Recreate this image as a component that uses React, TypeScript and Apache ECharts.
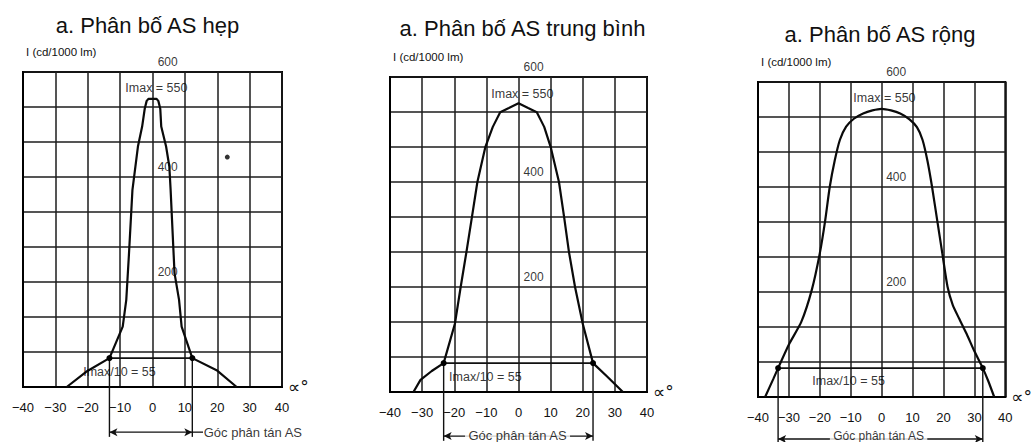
import React, { useEffect, useRef } from "react";
import * as echarts from "echarts";

// ---------- texts ----------
const TITLES = ["a. Phân bố AS hẹp", "a. Phân bố AS trung bình", "a. Phân bố AS rộng"];
const Y_AXIS_NAME = "I (cd/1000 lm)";
const X_AXIS_NAME = "∝°";
const IMAX_TEXT = "Imax = 550";
const IMAX10_TEXT = "Imax/10 = 55";
const SPREAD_TEXT = "Góc phân tán AS";

// ---------- scales ----------
const X_MIN = -40;
const X_MAX = 40;
const X_STEP = 10;
const Y_MIN = 0;
const Y_MAX = 600;
const Y_STEP = 200 / 3;
const SCALE_LABELS = [200, 400, 600];
const IMAX10 = 55;

// ---------- curves (angle in degrees, intensity in cd/1000 lm) ----------
const NARROW_ANGLE = [-26.5, -20.5, -13.3, -9.2, -8.1, -7.3, -6.2, -4.5, -3.2, -2.4, -1.8, -1.2, 1.2, 1.8, 2.4, 2.7, 4.2, 5.2, 5.6, 6.8, 8.2, 9.0, 12.3, 19.8, 26.0];
const NARROW_I = [0, 29, 55, 115, 166, 250, 375, 458, 496, 530, 545, 549, 549, 545, 530, 496, 458, 420, 375, 217, 166, 115, 55, 32, 0];

const MEDIUM_ANGLE = [-32.7, -30.5, -27.0, -23.3, -19.8, -18.0, -16.2, -14.5, -12.8, -10.3, -8.0, -5.7, -3.0, 0, 3.0, 5.7, 8.0, 10.0, 12.6, 14.2, 15.7, 17.6, 20.0, 23.2, 27.5, 32.5];
const MEDIUM_I = [0, 23, 40, 55, 130, 200, 267, 333, 400, 467, 505, 533, 541, 550, 541, 533, 505, 467, 400, 333, 267, 200, 130, 55, 30, 0];

const WIDE_ANGLE = [-37.7, -35.0, -33.5, -30.0, -26.0, -22.6, -20.0, -18.3, -16.8, -15.2, -13.5, -11.5, -9.0, -6.0, -3.0, 0, 3.0, 6.0, 9.0, 11.4, 13.2, 14.8, 16.3, 18.0, 19.6, 21.3, 23.0, 25.0, 27.5, 30.0, 32.7, 34.5, 36.4];
const WIDE_I = [0, 35, 55, 100, 143, 204, 274, 335, 400, 450, 490, 515, 530, 540, 546, 549, 546, 540, 529, 514, 490, 450, 400, 335, 274, 210, 175, 150, 120, 87, 55, 30, 0];

// spread angle (where the curve crosses Imax/10)
const SPREAD_LEFT = [-13.3, -23.3, -33.5];
const SPREAD_RIGHT = [12.3, 23.2, 32.7];

// scan speck in first panel (angle, value)
const SPECK = [23.1, 438];

// ---------- layout ----------
const GRIDS = [
  { left: 23, top: 72, width: 259, height: 315 },
  { left: 390, top: 77, width: 257, height: 315 },
  { left: 758, top: 82, width: 255, height: 315 },
];
const TITLE_POS = [
  [147.5, 25],
  [522.5, 28],
  [880, 34.5],
];
const SCALE_LABEL_X = 4.7;
const IMAX_LABEL_POS = [
  [1.2, 570],
  [1.2, 568],
  [0.9, 570],
];
const IMAX10_LABEL_POS = [
  [-10.2, 29],
  [-10.3, 29],
  [-10.7, 30.5],
];
const BRACKET_BOTTOM = [-95, -93, -100];
const ARROW_Y = [-86, -84, -80];
const SPREAD_TEXT_POS = [
  [15.8, -86],
  [-0.3, -82],
  [-1, -75],
];

const FONT = "Liberation Sans, Arial, sans-serif";
const INK = "#111";

const CURVES = [
  [NARROW_ANGLE, NARROW_I],
  [MEDIUM_ANGLE, MEDIUM_I],
  [WIDE_ANGLE, WIDE_I],
];

function buildOption() {
  const grid = GRIDS.map((g) => ({
    left: g.left,
    top: g.top,
    width: g.width,
    height: g.height,
    show: true,
    borderColor: "#000",
    borderWidth: 2,
    backgroundColor: "transparent",
  }));

  const xAxis = GRIDS.map((_, i) => ({
    type: "value",
    gridIndex: i,
    min: X_MIN,
    max: X_MAX,
    interval: X_STEP,
    name: X_AXIS_NAME,
    nameLocation: "end",
    nameGap: 6,
    nameTextStyle: { fontSize: 17, color: INK, fontFamily: "DejaVu Sans", verticalAlign: "middle" },
    axisLine: { show: true, onZero: false, lineStyle: { color: "#000", width: 2 } },
    axisTick: { show: false },
    splitLine: { show: true, lineStyle: { color: "#1c1c1c", width: 1.5 } },
    axisLabel: {
      show: true,
      margin: 14,
      fontSize: 13,
      color: INK,
      fontFamily: FONT,
      hideOverlap: false,
      formatter: (v: number) => (v < 0 ? "\u2212" + Math.abs(v) : String(v)),
    },
  }));

  const yAxis = GRIDS.map((_, i) => ({
    type: "value",
    gridIndex: i,
    min: Y_MIN,
    max: Y_MAX,
    interval: Y_STEP,
    name: Y_AXIS_NAME,
    nameLocation: "end",
    nameGap: 14,
    nameTextStyle: { fontSize: 11.5, color: INK, fontFamily: FONT, align: "left", padding: [0, 0, 0, 3] },
    axisLine: { show: true, onZero: false, lineStyle: { color: "#000", width: 2 } },
    axisTick: { show: false },
    axisLabel: { show: false },
    splitLine: { show: true, lineStyle: { color: "#1c1c1c", width: 1.5 } },
  }));

  const series: any[] = [];
  const labelBase = { show: true, color: "#000", fontFamily: FONT };

  CURVES.forEach(([xs, ys], i) => {
    const L = SPREAD_LEFT[i];
    const R = SPREAD_RIGHT[i];
    const ay = ARROW_Y[i];
    const bb = BRACKET_BOTTOM[i];

    series.push({
      type: "line",
      xAxisIndex: i,
      yAxisIndex: i,
      data: xs.map((x, k) => [x, ys[k]]),
      symbol: "none",
      smooth: i === 2 ? 0.2 : false,
      lineStyle: { color: "#0a0a0a", width: 2.2 },
      z: 5,
      silent: true,
    });

    series.push({
      type: "line",
      xAxisIndex: i,
      yAxisIndex: i,
      data: [
        [L, IMAX10],
        [R, IMAX10],
      ],
      symbol: "circle",
      symbolSize: 6,
      showSymbol: true,
      itemStyle: { color: "#000" },
      lineStyle: { color: "#111", width: 1.6 },
      z: 6,
      silent: true,
    });

    // bracket verticals
    [L, R].forEach((x) => {
      series.push({
        type: "line",
        xAxisIndex: i,
        yAxisIndex: i,
        data: [
          [x, IMAX10],
          [x, bb],
        ],
        symbol: "none",
        clip: false,
        lineStyle: { color: "#111", width: 1.4 },
        silent: true,
      });
    });

    // double arrow between brackets
    series.push({
      type: "line",
      xAxisIndex: i,
      yAxisIndex: i,
      data: [
        { value: [L, ay], symbol: "arrow", symbolRotate: 90 },
        { value: [R, ay], symbol: "arrow", symbolRotate: -90 },
      ],
      showSymbol: true,
      symbolSize: [6, 8],
      itemStyle: { color: "#111" },
      clip: false,
      lineStyle: { color: "#111", width: 1.3 },
      silent: true,
    });

    if (i === 0) {
      series.push({
        type: "line",
        xAxisIndex: i,
        yAxisIndex: i,
        data: [
          [R, ay],
          [SPREAD_TEXT_POS[0][0] - 0.2, ay],
        ],
        symbol: "none",
        clip: false,
        lineStyle: { color: "#111", width: 1.3 },
        silent: true,
      });
    }

    const labels: any[] = SCALE_LABELS.map((v) => ({
      value: [SCALE_LABEL_X, v],
      label: { ...labelBase, fontSize: 12, position: "top", distance: 4, formatter: String(v) },
    }));
    labels.push({
      value: IMAX_LABEL_POS[i],
      label: { ...labelBase, fontSize: 12.5, position: "inside", formatter: IMAX_TEXT },
    });
    labels.push({
      value: IMAX10_LABEL_POS[i],
      label: { ...labelBase, fontSize: 12.5, position: "inside", formatter: IMAX10_TEXT },
    });
    labels.push({
      value: SPREAD_TEXT_POS[i],
      label:
        i === 0
          ? { ...labelBase, fontSize: 13, position: "right", distance: 0, formatter: SPREAD_TEXT }
          : {
              ...labelBase,
              fontSize: i === 2 ? 12 : 13,
              position: "inside",
              formatter: SPREAD_TEXT,
              backgroundColor: "#fff",
              padding: [0, 3],
            },
    });

    series.push({
      type: "scatter",
      xAxisIndex: i,
      yAxisIndex: i,
      data: labels,
      symbolSize: 0.1,
      itemStyle: { color: "rgba(0,0,0,0)" },
      clip: false,
      silent: true,
      z: 8,
    });
  });

  series.push({
    type: "scatter",
    xAxisIndex: 0,
    yAxisIndex: 0,
    data: [SPECK],
    symbolSize: 5,
    itemStyle: { color: "#000" },
    silent: true,
  });

  const graphic = TITLES.map((t, i) => ({
    type: "text",
    x: TITLE_POS[i][0],
    y: TITLE_POS[i][1],
    silent: true,
    style: {
      text: t,
      fontSize: 22,
      fontFamily: FONT,
      fill: INK,
      textAlign: "center",
      textVerticalAlign: "middle",
      align: "center",
      verticalAlign: "middle",
    },
  }));

  return {
    animation: false,
    backgroundColor: "#fff",
    grid,
    xAxis,
    yAxis,
    series,
    graphic,
  };
}

export default function App() {
  const ref = useRef<HTMLDivElement>(null);
  useEffect(() => {
    if (!ref.current) return;
    const chart = echarts.init(ref.current, undefined, { renderer: "svg" });
    chart.setOption(buildOption() as any);
    return () => chart.dispose();
  }, []);
  return (
    <div
      ref={ref}
      style={{ position: "fixed", left: 0, top: 0, width: 1035, height: 442, background: "#fff" }}
    />
  );
}
